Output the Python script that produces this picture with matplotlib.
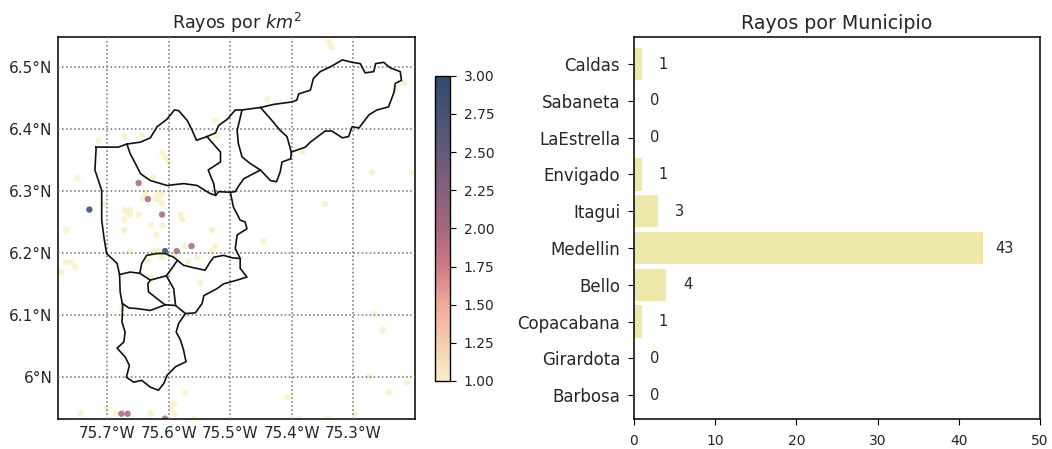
import matplotlib
matplotlib.use("Agg")
import matplotlib.pyplot as plt
from matplotlib.colors import LinearSegmentedColormap

municipios = ["Barbosa", "Girardota", "Copacabana", "Bello", "Medellin", "Itagui", "Envigado", "LaEstrella", "Sabaneta", "Caldas"]
rayos_mun = [0, 0, 1, 4, 43, 3, 1, 0, 0, 1]
x_bar_ticks = [0, 10, 20, 30, 40, 50]

lon_ticks = [-75.7, -75.6, -75.5, -75.4, -75.3]
lon_labels = ["75.7°W", "75.6°W", "75.5°W", "75.4°W", "75.3°W"]
lat_ticks = [6.0, 6.1, 6.2, 6.3, 6.4, 6.5]
lat_labels = ["6°N", "6.1°N", "6.2°N", "6.3°N", "6.4°N", "6.5°N"]
cbar_ticks = [1.0, 1.25, 1.5, 1.75, 2.0, 2.25, 2.5, 2.75, 3.0]

lon1 = [-75.714,-75.672,-75.644,-75.525,-75.521,-75.748,-75.625,-75.611,-75.606,-75.601,-75.705,-75.642,-75.638,-75.622,-75.617,-75.611,-75.617,-75.611,-75.672,-75.663,-75.667,-75.663,-75.672,-75.649,-75.581,-75.578,-75.629,-75.611,-75.672,-75.767,-75.530,
        -75.341,-75.336,-75.440,-75.218,-75.232,-75.383,-75.270,-75.205,-75.346,
        -75.620,-75.663,-75.625,-75.617,-75.611,-75.573,-75.525,-75.530,-75.591,-75.568,-75.553,-75.767,-75.757,-75.752,-75.775,-75.634,-75.629,-75.549,-75.676,-75.573,-75.592,-75.596,-75.591,-75.559,-75.701,-75.686,-75.743,-75.629,
        -75.446,-75.266,-75.252,-75.275,-75.213,-75.242,-75.407,-75.388,-75.341,-75.298]
lat1 = [6.381,6.389,6.389,6.414,6.389,6.321,6.321,6.363,6.355,6.347,6.279,6.288,6.296,6.288,6.296,6.296,6.288,6.280,6.269,6.269,6.265,6.262,6.254,6.262,6.262,6.254,6.245,6.245,6.237,6.237,6.237,
        6.541,6.533,6.448,6.474,6.464,6.363,6.330,6.330,6.279,
        6.229,6.203,6.203,6.203,6.193,6.211,6.211,6.203,6.196,6.186,6.193,6.185,6.185,6.177,6.169,6.186,6.161,6.152,6.109,5.974,5.956,5.948,5.940,5.932,5.948,5.940,5.940,5.940,
        6.219,6.101,6.075,6.000,5.990,5.974,5.966,5.932,5.932,5.940]
lon2 = [-75.649,-75.634,-75.611,-75.729,-75.606,-75.587,-75.563,-75.677,-75.667,-75.606]
lat2 = [6.313,6.287,6.262,6.270,6.203,6.203,6.211,5.940,5.940,5.932]
val2 = [2, 2, 2, 3, 3, 2, 2, 2, 2, 2]

outer_lon = [-75.718,-75.695,-75.682,-75.668,-75.646,-75.630,-75.619,-75.603,-75.591,-75.584,-75.570,-75.562,-75.555,-75.538,-75.524,-75.519,-75.505,-75.492,-75.481,-75.467,-75.451,-75.430,-75.400,-75.392,-75.389,-75.370,-75.365,-75.354,-75.337,-75.318,-75.302,-75.289,-75.281,-75.267,-75.264,-75.251,-75.240,-75.224,-75.222,-75.232,-75.234,-75.243,-75.262,-75.275,-75.291,-75.302,-75.308,-75.318,-75.335,-75.346,-75.370,-75.378,-75.401,-75.402,-75.416,-75.419,-75.425,-75.435,-75.451,-75.478,-75.486,-75.492,-75.500,-75.495,-75.484,-75.476,-75.473,-75.489,-75.492,-75.484,-75.484,-75.473,-75.489,-75.511,-75.522,-75.543,-75.546,-75.557,-75.573,-75.584,-75.588,-75.581,-75.576,-75.572,-75.589,-75.603,-75.608,-75.617,-75.630,-75.644,-75.657,-75.669,-75.664,-75.671,-75.684,-75.673,-75.671,-75.676,-75.675,-75.679,-75.680,-75.684,-75.701,-75.705,-75.709,-75.709,-75.720,-75.718]
outer_lat = [6.371,6.371,6.371,6.376,6.379,6.386,6.404,6.416,6.431,6.430,6.414,6.398,6.382,6.388,6.394,6.406,6.416,6.431,6.431,6.433,6.435,6.440,6.444,6.447,6.457,6.463,6.482,6.493,6.501,6.512,6.508,6.506,6.491,6.493,6.506,6.508,6.499,6.493,6.479,6.474,6.460,6.436,6.431,6.423,6.402,6.404,6.388,6.386,6.397,6.397,6.379,6.371,6.363,6.352,6.347,6.331,6.315,6.317,6.334,6.320,6.309,6.299,6.298,6.274,6.253,6.250,6.239,6.229,6.207,6.191,6.175,6.161,6.156,6.150,6.142,6.131,6.118,6.103,6.102,6.086,6.072,6.059,6.043,6.024,6.016,6.002,5.989,5.978,5.983,5.994,5.991,5.999,6.018,6.032,6.046,6.056,6.072,6.088,6.115,6.137,6.165,6.183,6.199,6.223,6.253,6.301,6.334,6.371]

a_lon = [-75.668,-75.663,-75.654,-75.646,-75.630,-75.603,-75.576,-75.554,-75.533,-75.524,-75.519,-75.500]
a_lat = [6.376,6.361,6.344,6.328,6.317,6.309,6.312,6.309,6.296,6.293,6.299,6.298]
b_lon = [-75.538,-75.516,-75.516,-75.536,-75.527,-75.524]
b_lat = [6.388,6.363,6.347,6.334,6.312,6.293]
c_lon = [-75.481,-75.489,-75.487,-75.481,-75.467,-75.451]
c_lat = [6.431,6.398,6.377,6.355,6.344,6.334]
d_lon = [-75.451,-75.435,-75.419,-75.408,-75.401]
d_lat = [6.435,6.417,6.398,6.388,6.363]
e_lon = [-75.680,-75.663,-75.647,-75.644,-75.636,-75.619,-75.606,-75.592,-75.586,-75.576,-75.560,-75.541,-75.533,-75.527,-75.511,-75.497,-75.484]
e_lat = [6.165,6.169,6.167,6.183,6.196,6.199,6.199,6.193,6.188,6.180,6.176,6.172,6.185,6.193,6.196,6.192,6.191]
f_lon = [-75.586,-75.595,-75.604,-75.630,-75.647]
f_lat = [6.188,6.175,6.163,6.156,6.167]
g_lon = [-75.630,-75.634,-75.633,-75.619,-75.606,-75.589,-75.573]
g_lat = [6.156,6.150,6.137,6.126,6.116,6.115,6.102]
h_lon = [-75.604,-75.592,-75.589]
h_lat = [6.163,6.142,6.115]
i_lon = [-75.675,-75.665,-75.652,-75.630,-75.606]
i_lat = [6.118,6.111,6.110,6.107,6.116]

W, H = 1052, 449
fig = plt.figure(figsize=(W / 100, H / 100), dpi=100)
plt.rcParams["text.color"] = "#262626"

def box(l, t, r, b):
    return [l / W, 1 - b / H, (r - l) / W, (b - t) / H]

cmap = LinearSegmentedColormap.from_list(
    "rayos", [(0.0, "#f8f0c6"), (0.25, "#f0a99a"), (0.375, "#cf7a85"),
              (0.5, "#a5677f"), (0.75, "#655a78"), (1.0, "#2e4a70")])

ax = fig.add_axes(box(58, 37, 415, 419.3))
vals = [1] * len(lon1) + val2
sc = ax.scatter(lon1 + lon2, lat1 + lat2, c=vals, cmap=cmap, vmin=1, vmax=3,
                s=21, linewidths=0, alpha=0.85, zorder=2)
for xs, ys in [(outer_lon, outer_lat), (a_lon, a_lat), (b_lon, b_lat), (c_lon, c_lat),
               (d_lon, d_lat), (e_lon, e_lat), (f_lon, f_lat), (g_lon, g_lat),
               (h_lon, h_lat), (i_lon, i_lat)]:
    ax.plot(xs, ys, color="#111111", lw=1.2, zorder=3)
ax.set_xlim(-75.78, -75.2)
ax.set_ylim(5.931, 6.549)
ax.set_xticks(lon_ticks, lon_labels, fontsize=11, color="#262626")
ax.set_yticks(lat_ticks, lat_labels, fontsize=11, color="#262626")
ax.tick_params(axis="both", length=0)
ax.tick_params(axis="x", pad=5)
ax.tick_params(axis="y", pad=4)
ax.grid(True, color="#707070", ls=":", lw=1.1, zorder=1)
ax.set_axisbelow(False)
for s in ax.spines.values():
    s.set_linewidth(1.1)
ax.set_title("Rayos por $km^2$", fontsize=12.6, pad=6, color="#262626")

cax = fig.add_axes(box(435, 75.7, 450, 381))
cb = fig.colorbar(sc, cax=cax, ticks=cbar_ticks)
cb.solids.set_alpha(1)
cb.ax.set_yticklabels([f"{t:.2f}" for t in cbar_ticks], fontsize=10, color="#262626")
cb.ax.tick_params(length=4, pad=6)
cb.outline.set_linewidth(1.0)

bx = fig.add_axes(box(634, 37, 1040, 419.3))
ypos = list(range(len(municipios)))
bx.barh(ypos, rayos_mun, height=0.88, color="palegoldenrod")
for y, v in zip(ypos, rayos_mun):
    bx.text(v + 2.6, y, str(v), ha="center", va="center", fontsize=10.5, color="#262626")
bx.set_xlim(0, 50)
bx.set_ylim(-0.66, 9.74)
bx.set_yticks(ypos, municipios, fontsize=12, color="#262626")
bx.set_xticks(x_bar_ticks)
bx.set_xticklabels(x_bar_ticks, color="#262626")
bx.tick_params(axis="x", labelsize=10, length=4.5, pad=6)
bx.tick_params(axis="y", length=4.5, pad=5.5)
for s in bx.spines.values():
    s.set_linewidth(1.1)
bx.set_title("Rayos por Municipio", fontsize=13.7, pad=6, color="#262626")

fig.savefig("out.png", dpi=100)
